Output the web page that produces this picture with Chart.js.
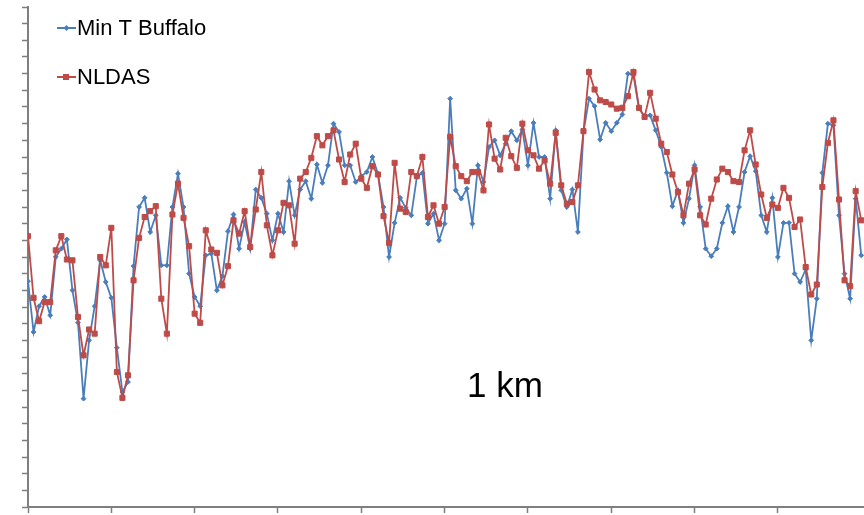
<!DOCTYPE html>
<html>
<head>
<meta charset="utf-8">
<script src="https://cdn.jsdelivr.net/npm/chart.js@4"></script>
<style>
  body { margin: 0; background: #fff; }
</style>
</head>
<body>
<canvas id="chart" width="864" height="515"></canvas>
<script>
// daily minimum temperature, station vs NLDAS at 1 km
const days = Array.from({length: 151}, (_, i) => i);

const minTBuffalo = [
  -2.9, -9.0, -5.9, -4.8, -7.0, 0.0, 1.0, 2.1, -4.0, -7.9,
  -17.0, -10.0, -5.9, -0.4, -3.0, -4.9, -10.9, -16.2, -15.0, -1.1,
  6.0, 7.1, 3.0, 5.0, -1.0, -1.0, 6.0, 10.0, 6.0, -2.0,
  -4.8, -5.9, 0.2, 0.4, -4.0, -2.3, 3.1, 5.1, 1.0, 4.2,
  1.0, 8.1, 7.1, 5.2, 2.0, 5.2, 3.0, 9.1, 5.0, 8.1,
  9.1, 7.0, 11.1, 8.9, 11.0, 16.0, 15.0, 11.0, 11.0, 9.0,
  9.7, 10.2, 12.0, 10.0, 6.0, 0.0, 4.1, 7.1, 5.9, 5.0,
  9.6, 10.1, 4.0, 5.2, 2.0, 4.0, 19.0, 8.0, 7.0, 8.2,
  4.0, 11.0, 9.0, 13.2, 14.0, 12.2, 13.6, 15.1, 14.0, 15.3,
  11.0, 16.1, 12.0, 12.0, 7.0, 15.2, 8.0, 6.0, 8.1, 3.0,
  15.0, 19.0, 18.1, 14.1, 16.1, 15.1, 16.1, 17.1, 22.0, 21.8,
  17.8, 16.9, 17.0, 15.2, 13.2, 10.1, 6.1, 8.0, 4.1, 7.0,
  11.0, 6.0, 1.0, 0.1, 1.0, 4.1, 6.1, 3.0, 6.0, 10.2,
  12.1, 10.3, 5.0, 3.0, 7.1, 0.0, 4.1, 4.1, -2.0, -3.0,
  -1.5, -10.0, -5.0, 10.1, 16.0, 15.8, 5.0, -2.0, -5.0, 7.0,
  0.2
];

const nldas = [
  2.5, -4.9, -7.7, -5.4, -5.4, 0.8, 2.5, -0.3, -0.4, -7.2,
  -11.8, -8.7, -9.2, 0.0, -1.0, 3.5, -13.8, -16.9, -14.2, -2.8,
  2.3, 4.8, 5.5, 6.1, -5.0, -9.2, 5.1, 8.8, 4.7, 1.3,
  -6.8, -7.9, 3.2, 0.9, 0.5, -3.4, -1.1, 4.4, 2.8, 5.5,
  1.2, 5.7, 10.2, 3.8, 0.2, 3.2, 6.5, 6.2, 1.6, 9.4,
  10.2, 11.9, 14.5, 13.4, 14.5, 15.2, 11.7, 9.0, 12.3, 13.6,
  9.4, 8.3, 10.9, 9.9, 4.9, 1.7, 11.3, 5.8, 5.4, 10.2,
  9.7, 12.0, 4.8, 6.2, 4.0, 6.0, 14.4, 10.9, 9.7, 9.1,
  10.2, 10.2, 8.0, 15.9, 11.8, 10.5, 14.3, 12.1, 10.7, 16.0,
  12.8, 12.2, 10.6, 11.6, 8.8, 14.9, 8.6, 6.4, 6.6, 8.6,
  15.1, 22.2, 20.1, 18.8, 18.6, 18.3, 17.8, 17.9, 19.3, 22.2,
  17.9, 16.8, 19.7, 16.6, 13.6, 12.6, 9.9, 7.8, 5.0, 8.8,
  10.5, 5.0, 3.9, 7.0, 9.3, 10.6, 10.2, 9.1, 9.0, 12.8,
  15.2, 11.1, 7.5, 4.7, 6.3, 5.9, 8.3, 7.1, 3.6, 4.5,
  -1.2, -4.5, -3.3, 8.4, 13.7, 16.4, 6.9, -2.8, -3.5, 7.9,
  4.4
];

const seriesNames = ['Min T Buffalo', 'NLDAS'];
const resolutionLabel = '1 km';

const BLUE = '#4a7ebb';
const RED = '#be4b48';
const AXIS = '#7f7f7f';

const toPoints = arr => arr.map((v, i) => ({x: days[i], y: v}));

// legend with line + marker, inside the plot, and the "1 km" note
const overlay = {
  id: 'overlay',
  afterDraw(chart) {
    const ctx = chart.ctx;
    ctx.save();
    ctx.font = '22px "Liberation Sans", Arial, sans-serif';
    ctx.textBaseline = 'middle';
    const rows = [28, 77];
    chart.data.datasets.forEach((ds, k) => {
      const y = rows[k];
      ctx.strokeStyle = ds.borderColor;
      ctx.lineWidth = 2;
      ctx.beginPath();
      ctx.moveTo(57, y);
      ctx.lineTo(76, y);
      ctx.stroke();
      ctx.fillStyle = ds.borderColor;
      if (ds.pointStyle === 'rect') {
        ctx.fillRect(63, y - 3, 6, 6);
      } else {
        ctx.beginPath();
        ctx.moveTo(66.5, y - 3);
        ctx.lineTo(69.5, y);
        ctx.lineTo(66.5, y + 3);
        ctx.lineTo(63.5, y);
        ctx.closePath();
        ctx.fill();
      }
      ctx.fillStyle = '#000';
      ctx.fillText(ds.label, 77, y + 1);
    });
    ctx.font = '35px "Liberation Sans", Arial, sans-serif';
    ctx.textBaseline = 'alphabetic';
    ctx.fillText(resolutionLabel, 467, 397);
    ctx.restore();
  }
};

new Chart(document.getElementById('chart'), {
  type: 'line',
  data: {
    datasets: [
      {
        label: seriesNames[0],
        data: toPoints(minTBuffalo),
        borderColor: BLUE,
        backgroundColor: BLUE,
        borderWidth: 1.8,
        pointStyle: 'rectRot',
        pointRadius: 2.4,
        pointBorderWidth: 1,
        tension: 0,
        order: 2
      },
      {
        label: seriesNames[1],
        data: toPoints(nldas),
        borderColor: RED,
        backgroundColor: RED,
        borderWidth: 1.8,
        pointStyle: 'rect',
        pointRadius: 3.6,
        pointBorderWidth: 1,
        tension: 0,
        order: 1
      }
    ]
  },
  options: {
    responsive: false,
    animation: false,
    devicePixelRatio: 1,
    layout: {autoPadding: false, padding: {left: 22, top: 7, right: 0, bottom: 2}},
    plugins: {
      legend: {display: false},
      tooltip: {enabled: false}
    },
    scales: {
      x: {
        type: 'linear',
        min: 0,
        max: 150.5,
        ticks: {display: false, stepSize: 15},
        afterBuildTicks: s => { s.ticks = s.ticks.filter(t => t.value % 15 === 0); },
        grid: {drawOnChartArea: false, tickLength: 6, color: AXIS, tickWidth: 1.5},
        border: {color: AXIS, width: 2}
      },
      y: {
        min: -30,
        max: 30,
        ticks: {display: false, stepSize: 2},
        grid: {drawOnChartArea: false, tickLength: 6, color: AXIS, tickWidth: 1.5},
        border: {color: AXIS, width: 2}
      }
    }
  },
  plugins: [overlay]
});
</script>
</body>
</html>
